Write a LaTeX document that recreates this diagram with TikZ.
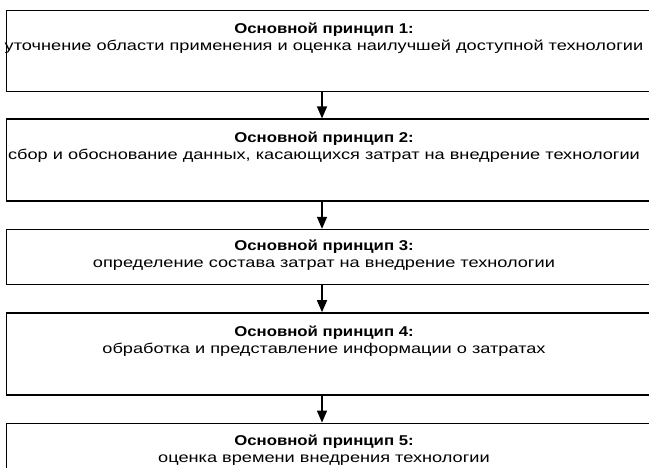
\documentclass[tikz,border=0pt]{standalone}
\usepackage{fontspec}
\setmainfont[FakeStretch=1.28, BoldFeatures={FakeStretch=1.18}]{Liberation Sans}
\usetikzlibrary{arrows.meta,positioning}

\begin{document}
\begin{tikzpicture}[
      x=1pt, y=-1pt,
      box/.style={draw, rectangle, line width=1.4pt, minimum width=660pt, inner sep=0pt},
      head/.style={font=\fontsize{14.2}{17}\selectfont\bfseries, anchor=base, inner sep=0pt},
      desc/.style={font=\fontsize{14.2}{17}\selectfont, anchor=base, inner sep=0pt},
      arrow/.style={-{Triangle[length=12pt, width=10pt]}, line width=1.4pt},
    ]

    \clip (0,0) rectangle (649,467);

    % boxes (right side runs off the page)
    \node[box, minimum height=81pt, anchor=north west] (p1) at (6,10) {};
    \node[box, minimum height=82pt, below=26pt of p1] (p2) {};
    \node[box, minimum height=55pt, below=27pt of p2] (p3) {};
    \node[box, minimum height=82pt, below=27pt of p3] (p4) {};
    \node[box, minimum height=82pt, below=27pt of p4] (p5) {};

    \coordinate (mid) at (324,0);
    \coordinate (axis) at (322,0);

    % headings
    \node[head, yshift=-23pt] (h1) at (p1.north -| mid) {Основной принцип 1:};
    \node[head, yshift=-24pt] (h2) at (p2.north -| mid) {Основной принцип 2:};
    \node[head, yshift=-22pt] (h3) at (p3.north -| mid) {Основной принцип 3:};
    \node[head, yshift=-24pt] (h4) at (p4.north -| mid) {Основной принцип 4:};
    \node[head, yshift=-23pt] (h5) at (p5.north -| mid) {Основной принцип 5:};

    % descriptions
    \node[desc, below=17pt of h1.base, anchor=base] (d1) {уточнение области применения и оценка наилучшей доступной технологии};
    \node[desc, below=17pt of h2.base, anchor=base] (d2) {сбор и обоснование данных, касающихся затрат на внедрение технологии};
    \node[desc, below=17pt of h3.base, anchor=base] (d3) {определение состава затрат на внедрение технологии};
    \node[desc, below=17pt of h4.base, anchor=base] (d4) {обработка и представление информации о затратах};
    \node[desc, below=17pt of h5.base, anchor=base] (d5) {оценка времени внедрения технологии};

    % arrows between boxes
    \draw[arrow] (p1.south -| axis) -- (p2.north -| axis);
    \draw[arrow] (p2.south -| axis) -- (p3.north -| axis);
    \draw[arrow] (p3.south -| axis) -- (p4.north -| axis);
    \draw[arrow] (p4.south -| axis) -- (p5.north -| axis);
  \end{tikzpicture}
\end{document}
